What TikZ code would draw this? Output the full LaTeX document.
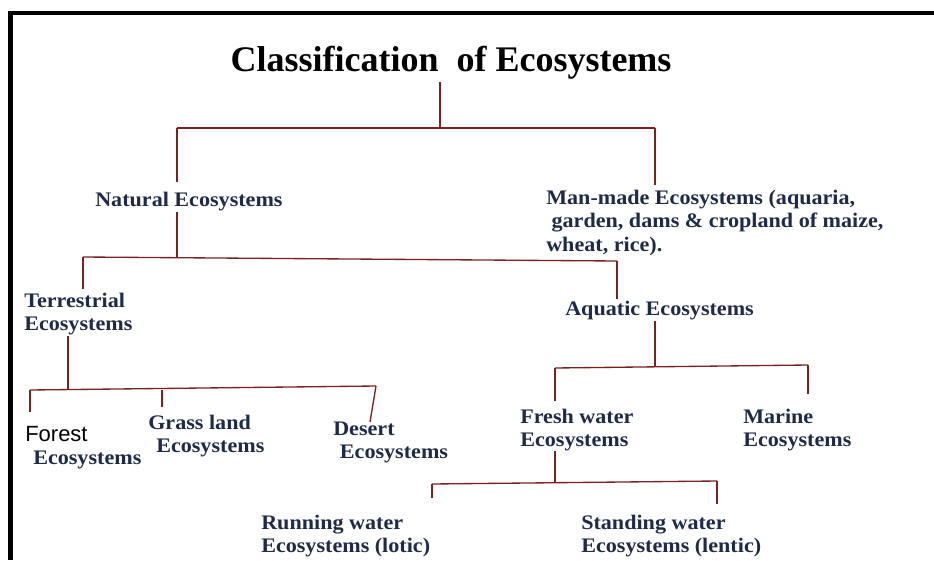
\documentclass[tikz,border=0pt]{standalone}
\usepackage{fontspec}
\setmainfont{Liberation Serif}
\newfontfamily\widefont{Liberation Serif}[FakeStretch=1.07]
\newfontfamily\arialfont{Liberation Sans}
\usetikzlibrary{calc}
\definecolor{inkblue}{HTML}{1E2A48}
\definecolor{linkred}{HTML}{7A2222}

\begin{document}
\begin{tikzpicture}[
    x=0.75pt, y=-0.75pt,
    title/.style={font=\bfseries\fontsize{27}{30}\selectfont, inner sep=0pt},
    lbl/.style={font=\widefont\bfseries\fontsize{15.5}{17.3}\selectfont, text=inkblue, inner sep=0pt, align=left, anchor=west},
    link/.style={draw=linkred, line width=1pt},
]
    \useasboundingbox (0,0) rectangle (934,560);

    % Frame
    \fill[black] (8.3,11) rectangle (934,15);
    \fill[black] (8.3,11) rectangle (13.3,560);

    % =====================================================================
    % Labels
    % =====================================================================
    \node[title] (root) at (451,63) {Classification\ \ of Ecosystems};

    \node[lbl] (natural) at (95,202) {Natural Ecosystems};
    \node[lbl] (manmade) at (546,223) {Man-made Ecosystems (aquaria,\\\hspace*{4pt}garden, dams \& cropland of maize,\\wheat, rice).};

    \node[lbl] (terrestrial) at (24,314.5) {Terrestrial\\Ecosystems};
    \node[lbl] (aquatic) at (565,311) {Aquatic Ecosystems};

    \node[lbl] (forest) at (25,448) {{\arialfont\mdseries\fontsize{16.5}{17.3}\selectfont\color{black}Forest}\\\hspace*{6pt}Ecosystems};
    \node[lbl] (grass) at (148,436) {Grass land\\\hspace*{6pt}Ecosystems};
    \node[lbl] (desert) at (333,442) {Desert\\\hspace*{5pt}Ecosystems};

    \node[lbl] (fresh) at (520,430) {Fresh water\\Ecosystems};
    \node[lbl] (marine) at (743,430) {Marine\\Ecosystems};

    \node[lbl] (running) at (261,536.5) {Running water\\Ecosystems (lotic)};
    \node[lbl] (standing) at (581,536.5) {Standing water\\Ecosystems (lentic)};

    % =====================================================================
    % Connectors
    % =====================================================================
    % Level 1
    \coordinate (rootj) at (440,128);
    \coordinate (natj) at (177,128);
    \coordinate (manj) at (655,128);
    \draw[link] ([yshift=-2pt]root.south -| rootj) -- (rootj);
    \draw[link] (natj) -- (manj);
    \draw[link] (natj) -- ([yshift=8pt]natural.north -| natj);
    \draw[link] (manj) -- ([yshift=4pt]manmade.north -| manj);

    % Natural ecosystems
    \coordinate (terj) at (83,257);
    \coordinate (aqj) at (617,261);
    \draw[link] (natural.south -| natj) -- (natj |- terj);
    \draw[link] (terj) -- (aqj);
    \draw[link] (terj) -- ([yshift=3pt]terrestrial.north -| terj);
    \draw[link] (aqj) -- ([yshift=2pt]aquatic.north -| aqj);

    % Terrestrial ecosystems
    \coordinate (terk) at (68,389);
    \coordinate (forj) at (30,390);
    \coordinate (graj) at (162,390);
    \coordinate (desj) at (376,386);
    \coordinate (desk) at (370,422);
    \draw[link] (terrestrial.south -| terk) -- (terk);
    \draw[link] (forj) -- (desj);
    \draw[link] (forj) -- ([yshift=11pt]forest.north -| forj);
    \draw[link] (graj) -- ([yshift=6pt]grass.north -| graj);
    \draw[link] (desj) -- (desk);

    % Aquatic ecosystems
    \coordinate (aqk) at (655,367);
    \coordinate (fresj) at (555,368);
    \coordinate (marj) at (808,365);
    \draw[link] (aquatic.south -| aqk) -- (aqk);
    \draw[link] (fresj) -- (marj);
    \draw[link] (fresj) -- ([yshift=6pt]fresh.north -| fresj);
    \draw[link] (marj) -- ([yshift=11pt]marine.north -| marj);

    % Fresh water ecosystems
    \coordinate (fresk) at (555,482.5);
    \coordinate (runj) at (432,484);
    \coordinate (stj) at (717,481);
    \draw[link] (fresh.south -| fresk) -- (fresk);
    \draw[link] (runj) -- (stj);
    \draw[link] (runj) -- ([yshift=13pt]running.north -| runj);
    \draw[link] (stj) -- ([yshift=8.5pt]standing.north -| stj);

\end{tikzpicture}
\end{document}
